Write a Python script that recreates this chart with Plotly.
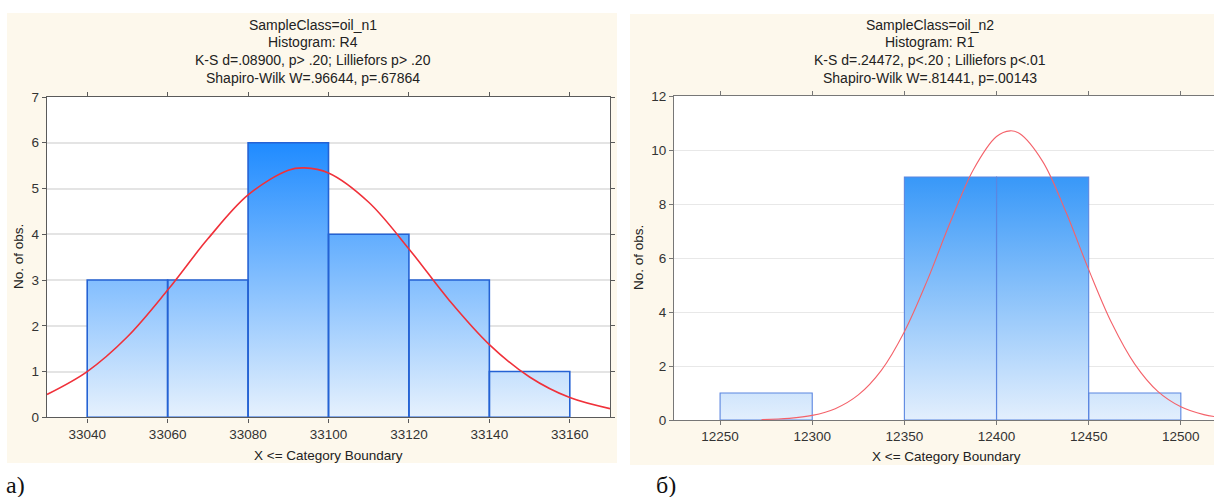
import plotly.graph_objects as go

W, H = 1214, 497

# ---------------- data ----------------
left_edges = [33040, 33060, 33080, 33100, 33120, 33140, 33160]
left_counts = [3, 3, 6, 4, 3, 1]
left_curve_x = [33030, 33040, 33050, 33060, 33070, 33080, 33090, 33094, 33100,
                33110, 33120, 33130, 33140, 33150, 33160, 33170]
left_curve_y = [0.50, 1.00, 1.76, 2.78, 3.90, 4.86, 5.40, 5.45, 5.34,
                4.70, 3.68, 2.56, 1.59, 0.88, 0.43, 0.19]
left_ticks = [33040, 33060, 33080, 33100, 33120, 33140, 33160]

right_edges = [12250, 12300, 12350, 12400, 12450, 12500]
right_counts = [1, 0, 9, 9, 1]
right_curve_x = [12272.5, 12287.5, 12300, 12312.5, 12325, 12337.5, 12350, 12362.5,
                 12375, 12387.5, 12400, 12407.4, 12412.5, 12425, 12437.5, 12450,
                 12462.5, 12475, 12487.5, 12500, 12512.5, 12525]
right_curve_y = [0.015, 0.06, 0.17, 0.42, 0.93, 1.84, 3.27, 5.18,
                 7.34, 9.28, 10.50, 10.71, 10.61, 9.58, 7.73, 5.57,
                 3.59, 2.07, 1.06, 0.49, 0.20, 0.07]
right_ticks = [12250, 12300, 12350, 12400, 12450, 12500]

left_title = ["SampleClass=oil_n1", "Histogram: R4",
              "K-S d=.08900, p> .20; Lilliefors p> .20",
              "Shapiro-Wilk W=.96644, p=.67864"]
right_title = ["SampleClass=oil_n2", "Histogram: R1",
               "K-S d=.24472, p<.20 ; Lilliefors p<.01",
               "Shapiro-Wilk W=.81441, p=.00143"]
x_label = "X <= Category Boundary"
y_label = "No. of obs."
panel_labels = ["а)", "б)"]

FONT = "Liberation Sans, Arial, sans-serif"
CREAM = "#fdf8ec"
TXT = "#222222"


def px_x(p):
    return p / W


def px_y(p):
    return 1 - p / H


def bar_polys(edges, counts):
    xs, ys = [], []
    for i, c in enumerate(counts):
        if c <= 0:
            continue
        x0, x1 = edges[i], edges[i + 1]
        xs += [x0, x0, x1, x1, x0, None]
        ys += [0, c, c, 0, 0, None]
    return xs, ys


fig = go.Figure()

# left bars
lx, ly = bar_polys(left_edges, left_counts)
fig.add_trace(go.Scatter(
    x=lx, y=ly, mode="lines", fill="toself", xaxis="x", yaxis="y",
    line=dict(color="#2462d4", width=1.6),
    fillgradient=dict(type="vertical",
                      colorscale=[[0, "#e6f1fd"], [1, "#1f8bff"]],
                      start=0, stop=max(left_counts)),
    hoverinfo="skip", showlegend=False))
fig.add_trace(go.Scatter(
    x=left_curve_x, y=left_curve_y, mode="lines", xaxis="x", yaxis="y",
    line=dict(color="#f0313a", width=1.6, shape="spline"),
    hoverinfo="skip", showlegend=False))

# right bars
rx, ry = bar_polys(right_edges, right_counts)
fig.add_trace(go.Scatter(
    x=rx, y=ry, mode="lines", fill="toself", xaxis="x2", yaxis="y2",
    line=dict(color="#5b86e0", width=1.1),
    fillgradient=dict(type="vertical",
                      colorscale=[[0, "#e3effd"], [1, "#3898f8"]],
                      start=0, stop=max(right_counts)),
    hoverinfo="skip", showlegend=False))
fig.add_trace(go.Scatter(
    x=right_curve_x, y=right_curve_y, mode="lines", xaxis="x2", yaxis="y2",
    line=dict(color="#f4626a", width=1.1, shape="spline"),
    hoverinfo="skip", showlegend=False))

axis_common = dict(
    showline=True, mirror="ticks", automargin=False,
    ticks="outside", ticklen=4,
    tickfont=dict(family=FONT, size=13.5, color="#333333"),
    zeroline=False, layer="above traces")

shapes = [
    dict(type="rect", xref="paper", yref="paper",
         x0=px_x(7), x1=px_x(617), y0=px_y(463), y1=px_y(13),
         fillcolor=CREAM, line=dict(width=0), layer="below"),
    dict(type="rect", xref="paper", yref="paper",
         x0=px_x(630), x1=1.0, y0=px_y(465), y1=px_y(14),
         fillcolor=CREAM, line=dict(width=0), layer="below"),
    dict(type="rect", xref="paper", yref="paper",
         x0=px_x(47), x1=px_x(610), y0=px_y(417.3), y1=px_y(97),
         fillcolor="white", line=dict(width=0), layer="below"),
    dict(type="rect", xref="paper", yref="paper",
         x0=px_x(674), x1=1.0, y0=px_y(420), y1=px_y(96),
         fillcolor="white", line=dict(width=0), layer="below"),
]


def ann(text, x, y, size=14, angle=0, anchor="center", family=FONT, color=TXT):
    return dict(text=text, x=px_x(x), y=px_y(y), xref="paper", yref="paper",
                showarrow=False, xanchor=anchor, yanchor="middle", textangle=angle,
                font=dict(family=family, size=size, color=color))


annotations = []
title_y = [25, 42, 60, 78]
for i, t in enumerate(left_title):
    annotations.append(ann(t, 313, title_y[i]))
for i, t in enumerate(right_title):
    annotations.append(ann(t, 930, title_y[i]))
annotations.append(ann(x_label, 328.5, 455, size=13.5))
annotations.append(ann(x_label, 946, 456, size=13.5))
annotations.append(ann(y_label, 18, 257, size=13.5, angle=-90))
annotations.append(ann(y_label, 638, 258, size=13.5, angle=-90))
serif = "Liberation Serif, Times New Roman, serif"
annotations.append(ann(panel_labels[0], 4, 485, size=24, anchor="left", family=serif, color="#111111"))
annotations.append(ann(panel_labels[1], 654, 485, size=24, anchor="left", family=serif, color="#111111"))

fig.update_layout(
    width=W, height=H, margin=dict(l=0, r=0, t=0, b=0),
    paper_bgcolor="white", plot_bgcolor="rgba(0,0,0,0)",
    showlegend=False,
    xaxis=dict(domain=[px_x(47), px_x(610)], range=[33030, 33170],
               tickvals=left_ticks, ticktext=[str(v) for v in left_ticks],
               showgrid=False, anchor="y", linecolor="#5a5a5a", linewidth=1.4,
               tickcolor="#5a5a5a", **axis_common),
    yaxis=dict(domain=[px_y(417.3), px_y(97)], range=[0, 7], dtick=1,
               showgrid=True, gridcolor="#e4e4e4", gridwidth=1.5, anchor="x",
               linecolor="#5a5a5a", linewidth=1.4, tickcolor="#5a5a5a",
               **axis_common),
    xaxis2=dict(domain=[px_x(674), 1.0], range=[12225, 12518],
                tickvals=right_ticks, ticktext=[str(v) for v in right_ticks],
                showgrid=False, anchor="y2", linecolor="#777777", linewidth=1.0,
                tickcolor="#777777", **axis_common),
    yaxis2=dict(domain=[px_y(420), px_y(96)], range=[0, 12], dtick=2,
                showgrid=True, gridcolor="#e8e8e8", gridwidth=1.2, anchor="x2",
                linecolor="#777777", linewidth=1.0, tickcolor="#777777",
                **axis_common),
    shapes=shapes, annotations=annotations,
)

fig.write_html("out.html",
               config={"displayModeBar": False},
               post_script="document.body.style.margin='0';document.body.style.overflow='hidden';")
